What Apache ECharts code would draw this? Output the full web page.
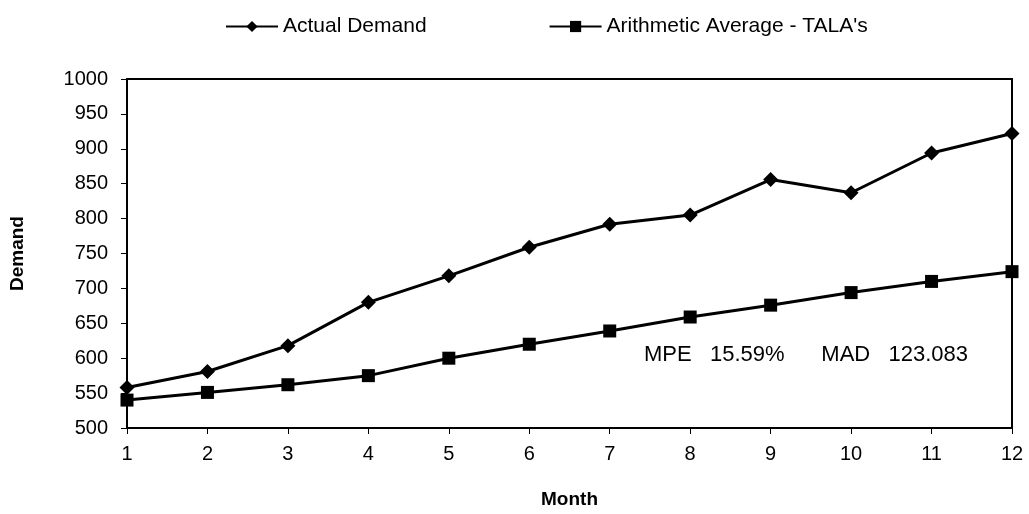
<!DOCTYPE html>
<html>
<head>
<meta charset="utf-8">
<script src="https://cdn.jsdelivr.net/npm/echarts@6/dist/echarts.min.js"></script>
<style>
  html, body { margin: 0; padding: 0; background: #fff; }
  #chart { width: 1029px; height: 514px; }
</style>
</head>
<body>
<div id="chart"></div>
<script>
// data
var months = ['1', '2', '3', '4', '5', '6', '7', '8', '9', '10', '11', '12'];
var actualDemand = [558, 581, 618, 680, 718, 759, 792, 805, 856, 837, 894, 922];
var talaAverage = [540, 551, 562, 575, 600, 620, 639, 659, 676, 694, 710, 724];
var yTicks = { min: 500, max: 1000, step: 50 };
var note = 'MPE   15.59%      MAD   123.083';

var font = 'Liberation Sans, Arial, sans-serif';

var chart = echarts.init(document.getElementById('chart'));
chart.setOption({
    backgroundColor: '#fff',
    animation: false,
    textStyle: { fontFamily: font, color: '#000' },
    legend: {
        left: 220,
        top: 11,
        itemWidth: 52,
        itemHeight: 14,
        itemGap: 122,
        textStyle: { fontSize: 21, color: '#000', fontFamily: font },
        data: ['Actual Demand', "Arithmetic Average - TALA's"]
    },
    grid: {
        left: 126,
        right: 17,
        top: 79,
        bottom: 84,
        show: true,
        borderColor: '#000',
        borderWidth: 2
    },
    xAxis: {
        type: 'category',
        data: months,
        boundaryGap: false,
        name: 'Month',
        nameLocation: 'middle',
        nameGap: 62,
        nameTextStyle: { fontSize: 19, fontWeight: 'bold', color: '#000' },
        axisLine: { lineStyle: { color: '#000', width: 2 } },
        axisTick: { show: true, alignWithLabel: true, length: 6, lineStyle: { color: '#000' } },
        axisLabel: { fontSize: 20, color: '#000', margin: 16 },
        splitLine: { show: false }
    },
    yAxis: {
        type: 'value',
        min: yTicks.min,
        max: yTicks.max,
        interval: yTicks.step,
        name: 'Demand',
        nameLocation: 'middle',
        nameGap: 100,
        nameTextStyle: { fontSize: 19, fontWeight: 'bold', color: '#000' },
        axisLine: { show: true, lineStyle: { color: '#000', width: 2 } },
        axisTick: { show: true, length: 6, lineStyle: { color: '#000' } },
        axisLabel: { fontSize: 20, color: '#000', margin: 19, formatter: function (v) { return String(v); } },
        splitLine: { show: false }
    },
    graphic: [{
        type: 'text',
        left: 644,
        top: 344,
        style: { text: note, font: '22px ' + font, fill: '#000' }
    }],
    series: [{
        name: 'Actual Demand',
        type: 'line',
        data: actualDemand,
        symbol: 'diamond',
        symbolSize: 15,
        lineStyle: { color: '#000', width: 3 },
        itemStyle: { color: '#000' }
    }, {
        name: "Arithmetic Average - TALA's",
        type: 'line',
        data: talaAverage,
        symbol: 'rect',
        symbolSize: 13,
        lineStyle: { color: '#000', width: 3 },
        itemStyle: { color: '#000' }
    }]
});
</script>
</body>
</html>
